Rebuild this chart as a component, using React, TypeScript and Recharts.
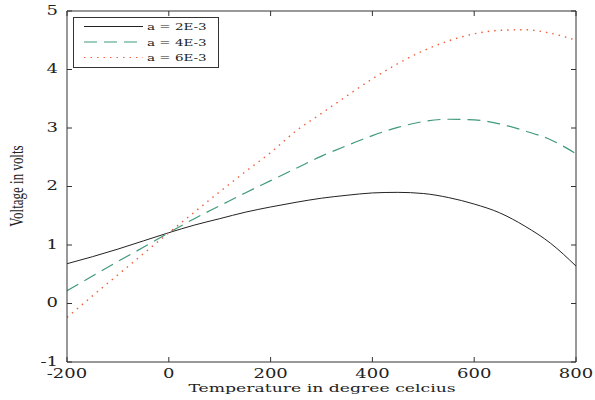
import { LineChart, Line, XAxis, YAxis, Legend } from 'recharts';

// temperature in degree celcius
const temps = [-200, -150, -100, -50, 0, 50, 100, 150, 200, 250, 300, 350, 400, 450, 500, 550, 600, 650, 700, 750, 800];
// voltage for each coefficient a
const voltsA2 = [0.68, 0.8, 0.93, 1.07, 1.21, 1.34, 1.45, 1.56, 1.65, 1.73, 1.8, 1.85, 1.89, 1.9, 1.88, 1.81, 1.7, 1.55, 1.32, 1.03, 0.64];
const voltsA4 = [0.22, 0.47, 0.72, 0.96, 1.21, 1.45, 1.67, 1.89, 2.1, 2.31, 2.52, 2.7, 2.87, 3.01, 3.11, 3.15, 3.14, 3.07, 2.95, 2.8, 2.56];
const voltsA6 = [-0.24, 0.13, 0.49, 0.85, 1.21, 1.56, 1.91, 2.25, 2.58, 2.95, 3.25, 3.55, 3.84, 4.1, 4.32, 4.49, 4.61, 4.67, 4.68, 4.62, 4.5];

const xTicks = [-200, 0, 200, 400, 600, 800];
const yTicks = [-1, 0, 1, 2, 3, 4, 5];
const seriesNames = ['a = 2E-3', 'a = 4E-3', 'a = 6E-3'];

const AXIS = '#333';
const COLORS = ['#222222', '#3f9a78', '#f0603c'];
const DASHES = [undefined, '13 7', '1.5 5'];
const FONT = 'DejaVu Serif';

const data = temps.map((t, i) => ({ t, a2: voltsA2[i], a4: voltsA4[i], a6: voltsA6[i] }));

const BottomTick = ({ x, y, payload }: any) => (
  <g>
    <line x1={x} y1={y} x2={x} y2={y - 5} stroke={AXIS} />
    <text transform={`translate(${x},${y + 16}) scale(1.5,1)`} textAnchor="middle" fontFamily={FONT} fontSize={12} fill="#222">
      {payload.value}
    </text>
  </g>
);

const TopTick = ({ x, y }: any) => <line x1={x} y1={y} x2={x} y2={y + 5} stroke={AXIS} />;

const LeftTick = ({ x, y, payload }: any) => (
  <g>
    <line x1={x} y1={y} x2={x + 5} y2={y} stroke={AXIS} />
    <text transform={`translate(${x - 9},${y + 3.5}) scale(1.5,1)`} textAnchor="end" fontFamily={FONT} fontSize={12} fill="#222">
      {payload.value}
    </text>
  </g>
);

const RightTick = ({ x, y }: any) => <line x1={x} y1={y} x2={x - 5} y2={y} stroke={AXIS} />;

const LegendBox = () => (
  <svg width={146} height={51} style={{ display: 'block' }}>
    <rect x={0.5} y={0.5} width={145} height={50} fill="#fff" stroke={AXIS} />
    {seriesNames.map((name, i) => {
      const rowY = 9.5 + i * 15.5;
      return (
        <g key={name}>
          <line x1={11} y1={rowY} x2={70} y2={rowY} stroke={COLORS[i]} strokeDasharray={DASHES[i]} />
          <text transform={`translate(74,${rowY + 3.5}) scale(1.35,1)`} fontFamily={FONT} fontSize={10} fill="#222">
            {name}
          </text>
        </g>
      );
    })}
  </svg>
);

export default function App() {
  return (
    <div style={{ position: 'absolute', left: 0, top: 0, width: 595, height: 400, background: '#fff' }}>
      <LineChart width={595} height={400} data={data} margin={{ top: 10, right: 18, bottom: 37, left: 66 }}>
        <XAxis
          dataKey="t"
          type="number"
          domain={[-200, 800]}
          ticks={xTicks}
          height={1}
          tickSize={0}
          tickMargin={0}
          tickLine={false}
          axisLine={{ stroke: AXIS }}
          tick={<BottomTick />}
          interval={0}
          allowDataOverflow
        />
        <XAxis
          xAxisId="top"
          orientation="top"
          dataKey="t"
          type="number"
          domain={[-200, 800]}
          ticks={xTicks}
          height={1}
          tickSize={0}
          tickMargin={0}
          tickLine={false}
          axisLine={{ stroke: AXIS }}
          tick={<TopTick />}
          interval={0}
          allowDataOverflow
        />
        <YAxis
          type="number"
          domain={[-1, 5]}
          ticks={yTicks}
          width={1}
          tickSize={0}
          tickMargin={0}
          tickLine={false}
          axisLine={{ stroke: AXIS }}
          tick={<LeftTick />}
          interval={0}
          allowDataOverflow
        />
        <YAxis
          yAxisId="right"
          orientation="right"
          type="number"
          domain={[-1, 5]}
          ticks={yTicks}
          width={1}
          tickSize={0}
          tickMargin={0}
          tickLine={false}
          axisLine={{ stroke: AXIS }}
          tick={<RightTick />}
          interval={0}
          allowDataOverflow
        />
        <Line dataKey="a2" name={seriesNames[0]} type="monotone" stroke={COLORS[0]} strokeWidth={1} dot={false} isAnimationActive={false} />
        <Line dataKey="a4" name={seriesNames[1]} type="monotone" stroke={COLORS[1]} strokeWidth={1.2} strokeDasharray={DASHES[1]} dot={false} isAnimationActive={false} />
        <Line dataKey="a6" name={seriesNames[2]} type="monotone" stroke={COLORS[2]} strokeWidth={1.4} strokeDasharray={DASHES[2]} dot={false} isAnimationActive={false} />
        <Legend
          layout="vertical"
          align="center"
          verticalAlign="middle"
          content={<LegendBox />}
          wrapperStyle={{ left: 73, top: 17, width: 146, height: 51 }}
        />
        <text transform="translate(322,392) scale(1.5,1)" textAnchor="middle" fontFamily={FONT} fontSize={11.5} fill="#222">
          Temperature in degree celcius
        </text>
        <text transform="translate(23,186) rotate(-90) scale(1,1.4)" textAnchor="middle" fontFamily="Liberation Serif" fontSize={13} fill="#222">
          Voltage in volts
        </text>
      </LineChart>
    </div>
  );
}
